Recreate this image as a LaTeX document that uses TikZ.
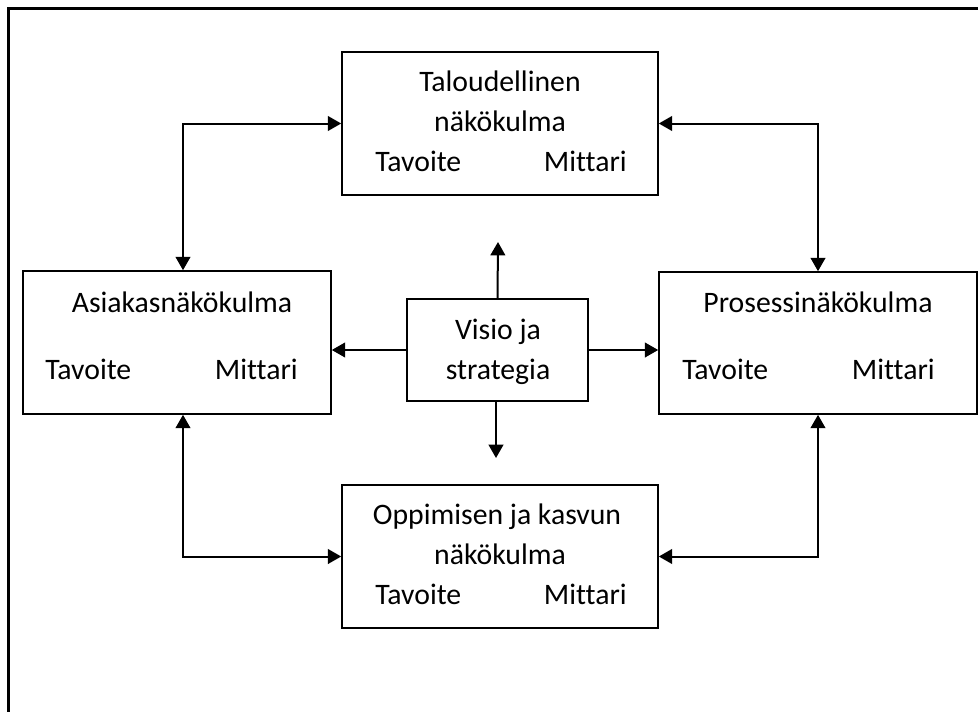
\documentclass[tikz,border=0pt]{standalone}
\usepackage{fontspec}
\setmainfont{Carlito}[Ligatures=NoCommon]
\usetikzlibrary{arrows.meta}
\begin{document}
\begin{tikzpicture}[x=0.75pt,y=-0.75pt,
  panel/.style={draw,line width=1.2pt,inner sep=0pt},
  txt/.style={font=\fontsize{22.3}{26}\selectfont,inner sep=0pt,anchor=base},
  txtl/.style={txt,anchor=base west},
  txtr/.style={txt,anchor=base east},
  oneway/.style={line width=1.5pt,-{Triangle[length=10pt,width=11pt]}},
  twoway/.style={line width=1.5pt,{Triangle[length=10pt,width=11pt]}-{Triangle[length=10pt,width=11pt]}}]
\useasboundingbox (0,0) rectangle (978,711);
\clip (0,0) rectangle (978,711);

% outer frame (runs off the right and bottom edges)
\draw[line width=1.6pt] (8.5,730) |- (995,8.5);

% perspective boxes
\node[panel,minimum width=237pt,minimum height=107.25pt] (fin)  at (500,123.5) {};
\node[panel,minimum width=231pt,minimum height=107.25pt] (cust) at (177,342.5) {};
\node[panel,minimum width=238.5pt,minimum height=106.5pt] (proc) at (818,343) {};
\node[panel,minimum width=237pt,minimum height=107.25pt] (learn) at (500,556.5) {};
\node[panel,minimum width=135.75pt,minimum height=76.5pt] (vis) at (497.5,350) {};

% texts
\node[txt]  (finA) at (500,91)  {Taloudellinen};
\node[txt]  (finB) at (500,131) {näkökulma};
\node[txtl] (finT) at (375,171) {Tavoite};
\node[txtr] (finM) at (627,171) {Mittari};

\node[txt]  (custA) at (182,312) {Asiakasnäkökulma};
\node[txtl] (custT) at (45,379)  {Tavoite};
\node[txtr] (custM) at (298,379) {Mittari};

\node[txt]  (procA) at (818,312) {Prosessinäkökulma};
\node[txtl] (procT) at (682,379) {Tavoite};
\node[txtr] (procM) at (935,379) {Mittari};

\node[txt]  (learnA) at (497,524) {Oppimisen ja kasvun};
\node[txt]  (learnB) at (500,564) {näkökulma};
\node[txtl] (learnT) at (375,604) {Tavoite};
\node[txtr] (learnM) at (627,604) {Mittari};

\node[txt] (visA) at (498,339) {Visio ja};
\node[txt] (visB) at (498,379) {strategia};

% connectors between perspectives
\draw[twoway] (fin.west) -| ([xshift=4.5pt]cust.north);
\draw[twoway] (fin.east) -| (proc.north);
\draw[twoway] ([xshift=4.5pt]cust.south) |- (learn.west);
\draw[twoway] (proc.south) |- (learn.east);

% arrows out of the vision box
\coordinate (upEnd) at (498,242);
\coordinate (downEnd) at (496,458);
\draw[oneway] (vis.north) -- (upEnd);
\draw[oneway] (vis.south -| downEnd) -- (downEnd);
\draw[oneway] (vis.west) -- (vis.west -| cust.east);
\draw[oneway] (vis.east) -- (vis.east -| proc.west);
\end{tikzpicture}
\end{document}
